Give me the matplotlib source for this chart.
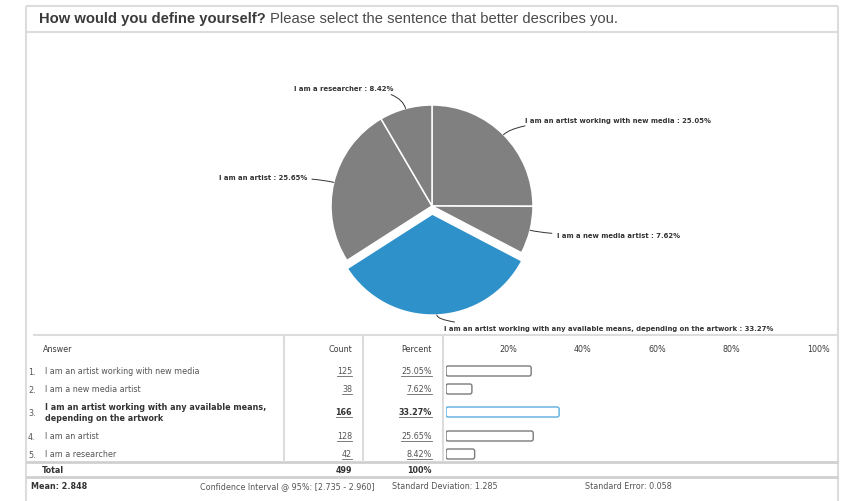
import numpy as np
import matplotlib
matplotlib.use('Agg')
import matplotlib.pyplot as plt
from matplotlib.patches import FancyBboxPatch

# survey answers
answers = ['I am an artist working with new media',
           'I am a new media artist',
           'I am an artist working with any available means,\ndepending on the artwork',
           'I am an artist',
           'I am a researcher']
pie_names = ['I am an artist working with new media',
             'I am a new media artist',
             'I am an artist working with any available means, depending on the artwork',
             'I am an artist',
             'I am a researcher']
counts = [125, 38, 166, 128, 42]
percents = [25.05, 7.62, 33.27, 25.65, 8.42]
total = 499
selected = 2
bar_ticks = ['20%', '40%', '60%', '80%', '100%']
stats = ['Mean: 2.848', 'Confidence Interval @ 95%: [2.735 - 2.960]',
         'Standard Deviation: 1.285', 'Standard Error: 0.058']

W, H = 844, 502
GRAY = '#808080'
BLUE = '#2e91c9'
LINE = '#dcdcdc'
TXT = '#3c3c3c'

fig = plt.figure(figsize=(W / 100, H / 100), dpi=100)
fig.patch.set_facecolor('white')

# pixel canvas for frame + table
ax = fig.add_axes([0, 0, 1, 1])
ax.set_xlim(0, W)
ax.set_ylim(H, 0)
ax.axis('off')

def hline(y, x0=26, x1=838, c=LINE, lw=1.5):
    ax.plot([x0, x1], [y, y], color=c, lw=lw, solid_capstyle='butt')

def vline(x, y0, y1, c=LINE, lw=1.5):
    ax.plot([x, x], [y0, y1], color=c, lw=lw, solid_capstyle='butt')

# outer frame
hline(7)
hline(33)
vline(26, 7, H)
vline(838, 7, H)

# title
rend = fig.canvas.get_renderer()
t1 = ax.text(39, 19, 'How would you define yourself?', fontsize=10.6, fontweight='bold',
             family='Liberation Sans', color='#3a3a3a', va='center', ha='left')
bb = t1.get_window_extent(rend)
ax.text(bb.x1 + 4, 19, 'Please select the sentence that better describes you.', fontsize=10.6,
        family='Liberation Sans', color='#4a4a4a', va='center', ha='left')

# pie
cx, cy, R = 432, 207, 101
pw, ph = 600, 300
ax_pie = fig.add_axes([(cx - pw / 2) / W, 1 - (cy + ph / 2) / H, pw / W, ph / H])
colors = [BLUE if i == selected else GRAY for i in range(len(percents))]
explode = [0.08 if i == selected else 0 for i in range(len(percents))]
wedges, _ = ax_pie.pie(percents, colors=colors, explode=explode, startangle=90,
                       counterclock=False, radius=1,
                       wedgeprops=dict(edgecolor='white', linewidth=1.1))
# pie() resets the limits, so fix the scale afterwards (R px per unit)
ax_pie.set_xlim(-pw / 2 / R, pw / 2 / R)
ax_pie.set_ylim(-ph / 2 / R, ph / 2 / R)
ax_pie.set_aspect('equal')
ax_pie.axis('off')
for i, w in enumerate(wedges):
    mid = np.deg2rad((w.theta1 + w.theta2) / 2)
    r0 = 1 + explode[i]
    edge = (r0 * np.cos(mid), r0 * np.sin(mid))
    ex, ey = 1.2 * np.cos(mid), 1.21 * np.sin(mid)
    side = 1 if np.cos(mid) >= 0 else -1
    txt = (ex + side * 0.07, ey)
    ax_pie.annotate('%s : %.2f%%' % (pie_names[i], percents[i]), xy=edge, xytext=txt,
                    ha='left' if side > 0 else 'right', va='center',
                    fontsize=4.95, fontweight='bold', color='#333333',
                    arrowprops=dict(arrowstyle='-', color='#333333', lw=0.7,
                                    shrinkA=1.5, shrinkB=0,
                                    connectionstyle='angle3,angleA=0,angleB=%.1f' % np.rad2deg(mid)))

# table
hline(336, 33, 838)
hline(463, c='#d0d0d0', lw=2)
hline(478, c='#d0d0d0', lw=2)
for x in (284, 363, 443):
    vline(x, 336, 463)

fs = 5.8
ax.text(43, 350, 'Answer', fontsize=fs, color=TXT, va='center')
ax.text(352, 350, 'Count', fontsize=fs, color=TXT, va='center', ha='right')
ax.text(432, 350, 'Percent', fontsize=fs, color=TXT, va='center', ha='right')
for lbl, x in zip(bar_ticks, (508, 582, 657, 731, 819)):
    ax.text(x, 350, lbl, fontsize=fs, color=TXT, va='center', ha='center')

row_y = [372, 390, 413, 437, 455]
underline = []
for i, y in enumerate(row_y):
    wt = 'bold' if i == selected else 'normal'
    c = '#333333' if i == selected else '#555555'
    ax.text(28, y + 1, '%d.' % (i + 1), fontsize=fs, color='#555555', va='center')
    ax.text(45, y, answers[i], fontsize=fs, color=c, va='center', fontweight=wt,
            linespacing=1.25)
    underline.append(ax.text(352, y, str(counts[i]), fontsize=fs, color=c, va='center',
                             ha='right', fontweight=wt))
    underline.append(ax.text(432, y, '%.2f%%' % percents[i], fontsize=fs, color=c,
                             va='center', ha='right', fontweight=wt))

# underline the count / percent links
for t in underline:
    b = t.get_window_extent(rend)
    yb = H - b.y0 + 0.5
    ax.plot([b.x0, b.x1], [yb, yb], color='#666666', lw=0.6)

# percent bars (rounded outline boxes)
bx0, bx1 = 446, 786
ax_bar = fig.add_axes([bx0 / W, 0, (bx1 - bx0) / W, 1])
ax_bar.set_xlim(0, 100)
ax_bar.set_ylim(H, 0)
ax_bar.axis('off')
px_per_pct = (bx1 - bx0) / 100
for i, y in enumerate(row_y):
    ec = '#5aaee0' if i == selected else '#7a7a7a'
    ax_bar.add_patch(FancyBboxPatch((0, y - 5), percents[i], 10,
                                    boxstyle='round,pad=0,rounding_size=0.6',
                                    mutation_aspect=px_per_pct,
                                    facecolor='white', edgecolor=ec, linewidth=1.0))

# totals and stats
ax.text(42, 471, 'Total', fontsize=fs, color='#333333', va='center', fontweight='bold')
ax.text(352, 471, str(total), fontsize=fs, color='#333333', va='center', ha='right',
        fontweight='bold')
ax.text(432, 471, '%d%%' % round(sum(percents)), fontsize=fs, color='#333333', va='center',
        ha='right', fontweight='bold')
ax.text(31, 487, stats[0], fontsize=fs, color='#333333', va='center', fontweight='bold')
for s, x in zip(stats[1:], (200, 392, 585)):
    ax.text(x, 487, s, fontsize=fs, color='#555555', va='center')

fig.savefig('out.png', dpi=100, facecolor='white')
